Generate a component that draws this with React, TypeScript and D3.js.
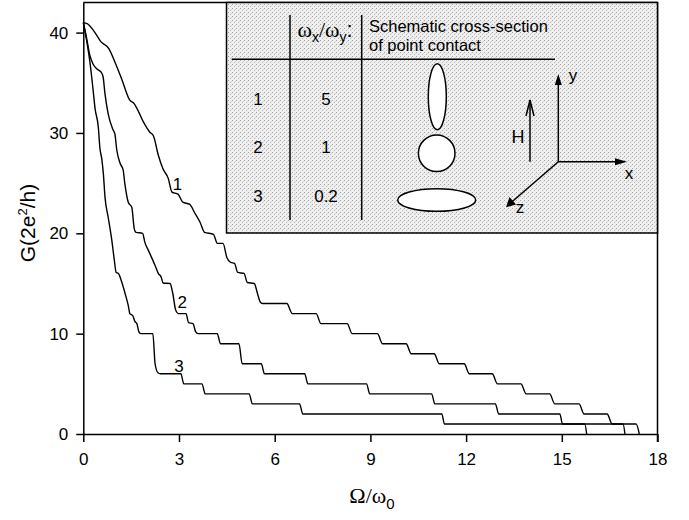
import React, { useRef, useEffect } from "react";
import * as d3 from "d3";

// tick values
const xTicks = [0, 3, 6, 9, 12, 15, 18];
const yTicks = [0, 10, 20, 30, 40];

// traces: [omega/omega0, G]
const curveOne: [number, number][] = [
  [0, 41.0], [0.12, 40.9], [0.3, 40.3], [0.55, 39.1], [0.8, 38.4], [1.0, 37.0],
  [1.2, 35.4], [1.45, 33.3], [1.6, 32.9], [1.72, 32.2], [1.9, 31.0], [2.08, 30.1],
  [2.2, 29.7], [2.35, 27.8], [2.5, 26.4], [2.66, 25.5], [2.78, 24.1], [2.97, 23.9],
  [3.12, 23.1], [3.33, 22.9], [3.5, 22.0], [3.66, 21.1], [3.8, 20.1], [4.08, 19.9],
  [4.2, 19.0], [4.38, 19.0], [4.5, 17.6], [4.62, 17.1], [4.74, 17.0], [4.84, 16.1],
  [5.04, 16.0], [5.14, 15.1], [5.36, 15.0], [5.46, 14.0], [5.54, 13.2], [5.62, 13.0],
  [6.38, 13.0], [6.55, 12.0], [7.3, 12.0], [7.45, 11.0], [8.27, 11.0], [8.43, 10.0],
  [9.22, 10.0], [9.38, 9.0], [10.12, 9.0], [10.28, 8.0], [11.0, 8.0], [11.16, 7.0],
  [11.94, 7.0], [12.1, 6.0], [12.82, 6.0], [12.98, 5.0], [13.72, 5.0], [13.88, 4.0],
  [14.62, 4.0], [14.78, 3.0], [15.54, 3.0], [15.7, 2.0], [16.42, 2.0], [16.58, 1.0],
  [17.33, 1.0], [17.43, 0],
];

const curveTwo: [number, number][] = [
  [0, 41.0], [0.1, 39.5], [0.2, 37.8], [0.3, 36.9], [0.42, 36.4], [0.56, 36.05],
  [0.62, 35.6], [0.68, 33.9], [0.78, 31.9], [0.92, 30.4], [0.99, 29.9], [1.05, 28.3],
  [1.15, 27.0], [1.25, 26.3], [1.3, 25.0], [1.41, 23.1], [1.52, 22.6], [1.6, 20.4],
  [1.65, 20.1], [1.86, 20.0], [1.93, 19.1], [2.04, 18.3], [2.14, 17.6], [2.25, 16.8],
  [2.35, 16.0], [2.44, 15.65], [2.5, 15.05], [2.72, 15.0], [2.8, 14.1], [2.9, 12.3],
  [2.98, 12.0], [3.22, 12.0], [3.3, 11.1], [3.44, 11.0], [3.52, 10.2], [3.6, 10.0],
  [4.2, 10.0], [4.3, 9.0], [4.88, 9.0], [4.98, 7.0], [5.58, 7.0], [5.68, 6.0],
  [6.94, 6.0], [7.04, 5.0], [8.88, 5.0], [8.98, 4.0], [10.92, 4.0], [11.02, 3.0],
  [12.92, 3.0], [13.02, 2.0], [14.94, 2.0], [15.02, 1.0], [16.92, 1.0], [16.98, 0],
];

const curveThree: [number, number][] = [
  [0, 41.0], [0.1, 39.3], [0.21, 37.0], [0.3, 34.5], [0.37, 32.4], [0.47, 30.6],
  [0.52, 28.5], [0.58, 27.4], [0.63, 25.9], [0.68, 23.6], [0.78, 21.6], [0.89, 19.4],
  [0.97, 17.4], [1.03, 16.1], [1.1, 16.0], [1.2, 15.2], [1.31, 14.0], [1.41, 12.8],
  [1.46, 12.0], [1.55, 11.8], [1.62, 11.2], [1.68, 11.0], [1.74, 10.2], [1.8, 10.0],
  [2.18, 10.0], [2.25, 7.0], [2.34, 6.1], [2.42, 6.0], [3.06, 6.0], [3.15, 5.0],
  [3.72, 5.0], [3.82, 4.0], [5.2, 4.0], [5.3, 3.0], [6.78, 3.0], [6.88, 2.0],
  [11.24, 2.0], [11.32, 1.0], [15.72, 1.0], [15.78, 0],
];

const curveNames = ["1", "2", "3"];
const curveLabelX = [2.95, 3.1, 3.0];
const curveLabelG = [24.9, 13.2, 6.8];

// inset table
const rowNames = ["1", "2", "3"];
const ratioValues = ["5", "1", "0.2"];

const SANS = "'Liberation Sans', Arial, Helvetica, sans-serif";
const SERIF = "'Liberation Serif', 'Times New Roman', serif";

function App() {
  const xAxisRef = useRef<SVGGElement>(null);
  const yAxisRef = useRef<SVGGElement>(null);

  const x = d3.scaleLinear().domain([0, 18]).range([83.3, 657.5]);
  const y = d3.scaleLinear().domain([0, 43]).range([434, 2.5]);

  const stepLine = d3
    .line<[number, number]>()
    .x((d) => x(d[0]))
    .y((d) => y(d[1]))
    .curve(d3.curveMonotoneX);

  useEffect(() => {
    const xAxis = d3.axisBottom(x).tickValues(xTicks).tickSize(8).tickSizeOuter(0).tickPadding(11);
    const gx = d3.select(xAxisRef.current).attr("transform", "translate(0,434)").call(xAxis);
    const yAxis = d3.axisLeft(y).tickValues(yTicks).tickSize(7).tickSizeOuter(0).tickPadding(8);
    const gy = d3.select(yAxisRef.current).attr("transform", "translate(83.3,0)").call(yAxis);
    [gx, gy].forEach((g) => {
      g.selectAll("path, line").attr("stroke", "#000").attr("stroke-width", 1.5);
      g.selectAll("text")
        .attr("fill", "#000")
        .style("font-family", SANS)
        .style("font-size", "17px");
      g.attr("font-family", null).attr("font-size", null);
    });
  }, []);

  // inset geometry (schematic, pixel coordinates)
  const rowY = [105, 153, 202];
  const ox = 558.3;
  const oy = 161.7;

  return (
    <svg
      width={689}
      height={520}
      style={{ position: "absolute", left: 0, top: 0, background: "#fff" }}
    >
      <defs>
        <pattern id="stipple" width="4" height="4" patternUnits="userSpaceOnUse">
          <rect width="4" height="4" fill="#efefef" />
          <rect x="0" y="0" width="1" height="1" fill="#a4a4a4" />
          <rect x="2" y="2" width="1" height="1" fill="#b8b8b8" />
          <rect x="3" y="1" width="1" height="1" fill="#d4d4d4" />
        </pattern>
      </defs>

      {/* frame */}
      <line x1={83.3} x2={657.5} y1={2.5} y2={2.5} stroke="#000" strokeWidth={1.5} />
      <line x1={657.5} x2={657.5} y1={2.5} y2={442} stroke="#000" strokeWidth={1.5} />

      <g ref={xAxisRef} />
      <g ref={yAxisRef} />

      {/* inset */}
      <g>
        <rect x={226.5} y={2.5} width={431} height={230.5} fill="url(#stipple)" stroke="#000" strokeWidth={1.5} />
        <line x1={231.7} x2={555} y1={59.3} y2={59.3} stroke="#000" strokeWidth={1.5} />
        <line x1={290} x2={290} y1={15} y2={220} stroke="#000" strokeWidth={1.5} />
        <line x1={361.7} x2={361.7} y1={15} y2={220} stroke="#000" strokeWidth={1.5} />

        <text x={325} y={37} textAnchor="middle" fontSize={22} fontFamily={SERIF}>
          ω<tspan fontSize={14} fontFamily={SANS} dy={5}>x</tspan>
          <tspan dy={-5}>/ω</tspan>
          <tspan fontSize={14} fontFamily={SANS} dy={5}>y</tspan>
          <tspan dy={-5} fontFamily={SANS}>:</tspan>
        </text>
        <text x={369} y={32} fontSize={16.5} fontFamily={SANS}>Schematic cross-section</text>
        <text x={369} y={51} fontSize={16.5} fontFamily={SANS}>of point contact</text>

        {rowNames.map((r, i) => (
          <text key={"r" + i} x={258} y={rowY[i]} textAnchor="middle" fontSize={17} fontFamily={SANS}>
            {r}
          </text>
        ))}
        {ratioValues.map((r, i) => (
          <text key={"v" + i} x={326} y={rowY[i]} textAnchor="middle" fontSize={17} fontFamily={SANS}>
            {r}
          </text>
        ))}

        <ellipse cx={437.3} cy={96.7} rx={9} ry={33} fill="#fff" stroke="#000" strokeWidth={1.5} />
        <circle cx={436.7} cy={153.3} r={18.3} fill="#fff" stroke="#000" strokeWidth={1.5} />
        <ellipse cx={436.7} cy={200} rx={39} ry={11.3} fill="#fff" stroke="#000" strokeWidth={1.5} />

        {/* field arrow */}
        <line x1={530} x2={530} y1={161.7} y2={100} stroke="#000" strokeWidth={1.5} />
        <polyline points="526,116 530,100 534,116" fill="none" stroke="#000" strokeWidth={1.5} />
        <text x={518} y={143} textAnchor="middle" fontSize={18} fontFamily={SANS}>H</text>

        {/* coordinate axes */}
        <line x1={ox} x2={ox} y1={oy} y2={80} stroke="#000" strokeWidth={1.5} />
        <polygon points={`${ox - 3.5},85 ${ox},74 ${ox + 3.5},85`} fill="#000" />
        <line x1={ox} x2={620} y1={oy} y2={oy} stroke="#000" strokeWidth={1.5} />
        <polygon points={`615,${oy - 3.5} 627,${oy} 615,${oy + 3.5}`} fill="#000" />
        <line x1={ox} x2={510} y1={oy} y2={203.5} stroke="#000" strokeWidth={1.5} />
        <polygon points="506,207.3 509.5,197 516,204.5" fill="#000" />
        <text x={573} y={81} textAnchor="middle" fontSize={17} fontFamily={SANS}>y</text>
        <text x={629} y={179} textAnchor="middle" fontSize={17} fontFamily={SANS}>x</text>
        <text x={520} y={213} textAnchor="middle" fontSize={17} fontFamily={SANS}>z</text>
      </g>

      {/* curves */}
      {[curveOne, curveTwo, curveThree].map((c, i) => (
        <path key={"c" + i} d={stepLine(c) || ""} fill="none" stroke="#000" strokeWidth={1.4} />
      ))}
      {curveNames.map((n, i) => (
        <text
          key={"l" + i}
          x={x(curveLabelX[i])}
          y={y(curveLabelG[i]) + 6}
          textAnchor="middle"
          fontSize={17}
          fontFamily={SANS}
        >
          {n}
        </text>
      ))}

      {/* axis titles */}
      <text
        transform="translate(35,223) rotate(-90)"
        textAnchor="middle"
        fontSize={21}
        fontFamily={SANS}
      >
        G(2e<tspan fontSize={13} dy={-8}>2</tspan>
        <tspan dy={8}>/h)</tspan>
      </text>
      <text x={372} y={503} textAnchor="middle" fontSize={22} fontFamily={SERIF}>
        Ω/ω<tspan fontSize={15} fontFamily={SANS} dy={6}>0</tspan>
      </text>
    </svg>
  );
}

export default App;
